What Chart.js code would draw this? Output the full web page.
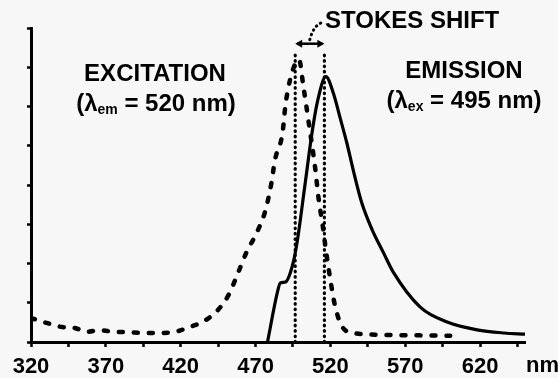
<!DOCTYPE html>
<html>
<head>
<meta charset="utf-8">
<script src="https://cdn.jsdelivr.net/npm/chart.js@4.4.1/dist/chart.umd.min.js"></script>
<style>
  html, body { margin: 0; padding: 0; background: #f7f7f7; }
  #wrap { width: 558px; height: 378px; }
</style>
</head>
<body>
<div id="wrap"><canvas id="espectro" width="558" height="378"></canvas></div>
<script>
// datos (nm / intensidad relativa)
var excitacionNm  = [320, 331, 341, 349, 357, 366, 375, 385, 395, 404, 415, 426, 436, 445, 452, 458, 464, 471, 476.5, 480.5, 483, 488, 490, 493, 497, 499, 502, 505, 510, 512, 515, 517, 520, 523, 528, 537, 560, 600];
var excitacionVal = [0.61, 0.48, 0.38, 0.36, 0.26, 0.30, 0.26, 0.25, 0.23, 0.23, 0.25, 0.38, 0.54, 0.82, 1.2, 1.73, 2.29, 2.8, 3.34, 4.03, 4.64, 5.32, 6.04, 6.67, 7.13, 7.2, 6.5, 5.73, 4.38, 3.69, 2.93, 2.34, 1.58, 0.94, 0.38, 0.22, 0.18, 0.16];

var emisionNm  = [478, 484.5, 486.5, 490, 495, 498, 503, 508, 511.5, 517, 522, 526.5, 531, 535.5, 541, 548, 555.5, 562, 580, 598, 618, 636, 650];
var emisionVal = [0, 1.25, 1.5, 1.53, 2.0, 2.6, 4.0, 5.4, 6.15, 6.76, 6.34, 5.71, 5.07, 4.34, 3.54, 2.85, 2.27, 1.78, 0.89, 0.51, 0.31, 0.23, 0.2];

var stokesNm = [496.5, 516];     // lineas punteadas
var stokesAlto = 7.4;            // hasta donde suben
var flechaAlto = 7.6;            // altura de la flecha

var ticksX = [320, 345, 370, 395, 420, 445, 470, 495, 520, 545, 570, 595, 620, 645];
var etiquetasX = [320, 370, 420, 470, 520, 570, 620];

function puntos(xs, ys) {
  var out = [];
  for (var i = 0; i < xs.length; i++) out.push({x: xs[i], y: ys[i]});
  return out;
}

var fuente = "bold 24px 'Liberation Sans', Arial, sans-serif";
var fuenteSub = "bold 14px 'Liberation Sans', Arial, sans-serif";

function lambdaLabel(ctx, sub, resto, cx, cy) {
  ctx.font = fuente;
  var a = '(\u03bb', b = ' = ' + resto + ' nm)';
  var wa = ctx.measureText(a).width, wb = ctx.measureText(b).width;
  ctx.font = fuenteSub;
  var ws = ctx.measureText(sub).width;
  var x = cx - (wa + ws + wb) / 2;
  ctx.textAlign = 'left';
  ctx.font = fuente;
  ctx.fillText(a, x, cy);
  ctx.font = fuenteSub;
  ctx.fillText(sub, x + wa, cy + 6);
  ctx.font = fuente;
  ctx.fillText(b, x + wa + ws, cy);
}

/* textos y flecha del Stokes shift */
var anotaciones = {
  id: 'anotaciones',
  beforeDraw: function(chart) {
    var c = chart.ctx;
    c.save();
    c.fillStyle = '#f7f7f7';
    c.fillRect(0, 0, chart.width, chart.height);
    c.restore();
  },
  afterDraw: function(chart) {
    var c = chart.ctx, sx = chart.scales.x, sy = chart.scales.y;
    c.save();
    c.fillStyle = '#000';
    c.strokeStyle = '#000';
    c.textBaseline = 'middle';
    c.font = fuente;
    c.textAlign = 'center';
    c.fillText('EXCITATION', 155, 74);
    lambdaLabel(c, 'em', '520', 156, 104);
    c.textAlign = 'center';
    c.fillText('EMISSION', 464, 71);
    lambdaLabel(c, 'ex', '495', 464, 101);
    c.textAlign = 'left';
    c.fillText('STOKES SHIFT', 325, 21);
    c.font = "bold 22px 'Liberation Sans', Arial, sans-serif";
    c.fillText('nm', sx.right + 1, 366);

    // flecha doble
    var x1 = sx.getPixelForValue(stokesNm[0]), x2 = sx.getPixelForValue(stokesNm[1]);
    var yf = sy.getPixelForValue(flechaAlto);
    c.lineWidth = 2.5;
    c.beginPath(); c.moveTo(x1 + 2, yf); c.lineTo(x2 - 2, yf); c.stroke();
    c.beginPath(); c.moveTo(x1, yf); c.lineTo(x1 + 7, yf - 4); c.lineTo(x1 + 7, yf + 4); c.closePath(); c.fill();
    c.beginPath(); c.moveTo(x2, yf); c.lineTo(x2 - 7, yf - 4); c.lineTo(x2 - 7, yf + 4); c.closePath(); c.fill();

    // linea guia punteada hacia el texto
    c.setLineDash([0.5, 4.5]);
    c.lineCap = 'round';
    c.lineWidth = 3;
    c.beginPath();
    c.moveTo((x1 + x2) / 2, yf - 4);
    c.quadraticCurveTo((x1 + x2) / 2 + 4, 24, 324, 22);
    c.stroke();
    c.restore();
  }
};

var ctx = document.getElementById('espectro');

var grafica = new Chart(ctx, {
  type: 'line',
  data: {
    datasets: [
      {
        label: 'Emission',
        data: puntos(emisionNm, emisionVal),
        borderColor: '#000',
        borderWidth: 3.2,
        pointRadius: 0,
        cubicInterpolationMode: 'monotone',
        fill: false
      },
      {
        label: 'Excitation',
        data: puntos(excitacionNm, excitacionVal),
        borderColor: '#000',
        borderWidth: 4.5,
        borderDash: [4, 11],
        borderCapStyle: 'round',
        pointRadius: 0,
        cubicInterpolationMode: 'monotone',
        fill: false
      },
      {
        label: 'stokes1',
        data: [{x: stokesNm[0], y: 0}, {x: stokesNm[0], y: stokesAlto}],
        borderColor: '#000',
        borderWidth: 3.2,
        borderDash: [0.6, 4.8],
        borderCapStyle: 'round',
        pointRadius: 0
      },
      {
        label: 'stokes2',
        data: [{x: stokesNm[1], y: 0}, {x: stokesNm[1], y: stokesAlto}],
        borderColor: '#000',
        borderWidth: 3.2,
        borderDash: [0.6, 4.8],
        borderCapStyle: 'round',
        pointRadius: 0
      }
    ]
  },
  options: {
    responsive: false,
    animation: false,
    layout: { padding: { top: 28, right: 33, left: 0, bottom: 0 } },
    plugins: { legend: { display: false }, tooltip: { enabled: false } },
    scales: {
      x: {
        type: 'linear',
        min: 320,
        max: 650,
        afterBuildTicks: function(s) {
          s.ticks = ticksX.map(function(v) { return {value: v}; });
        },
        afterFit: function(s) { s.height = 36; },
        border: { color: '#000', width: 3 },
        grid: { drawOnChartArea: false, drawTicks: true, tickLength: 5, tickWidth: 2.5, tickColor: '#000' },
        ticks: {
          color: '#000',
          padding: 7,
          maxRotation: 0,
          autoSkip: false,
          font: { family: "'Liberation Sans', Arial, sans-serif", size: 22, weight: 'bold' },
          callback: function(v) { return etiquetasX.indexOf(v) >= 0 ? String(v) : ''; }
        }
      },
      y: {
        min: 0,
        max: 8,
        afterFit: function(s) { s.width = 31; },
        border: { color: '#000', width: 3 },
        grid: { drawOnChartArea: false, drawTicks: true, tickLength: 4, tickWidth: 2.5, tickColor: '#000' },
        ticks: { stepSize: 1, display: false }
      }
    }
  },
  plugins: [anotaciones]
});
</script>
</body>
</html>
